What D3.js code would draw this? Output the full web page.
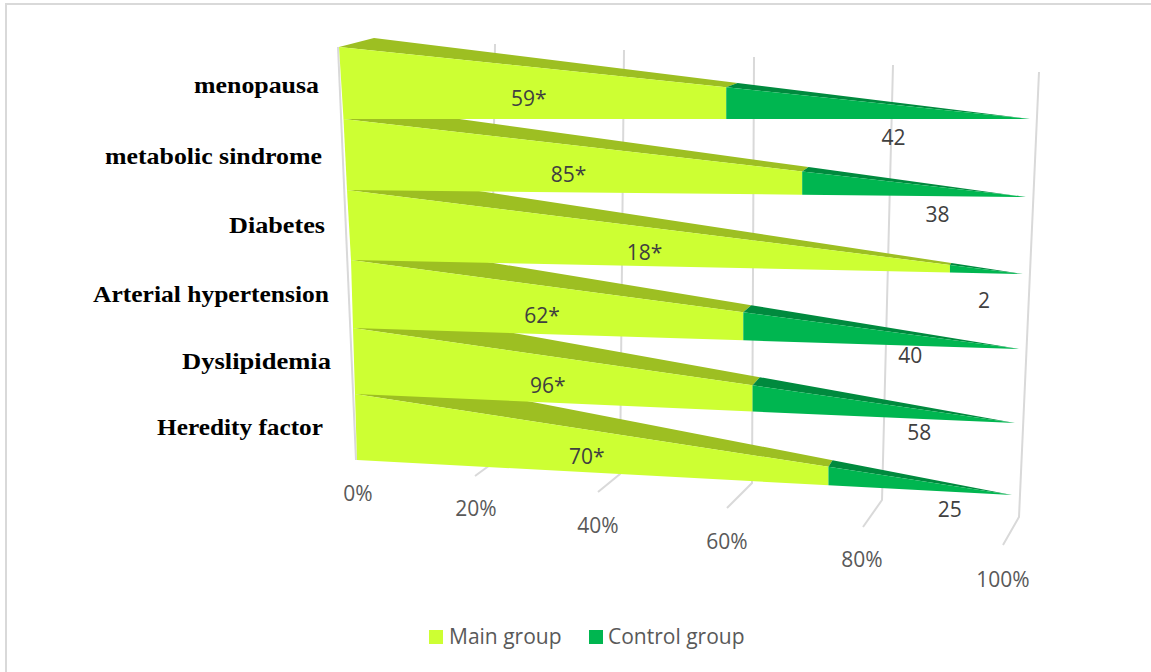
<!DOCTYPE html>
<html>
<head>
<meta charset="utf-8">
<script src="https://cdnjs.cloudflare.com/ajax/libs/d3/7.8.5/d3.min.js"></script>
<style>
  html, body { margin: 0; padding: 0; background: #fff; overflow: hidden; }
  svg { display: block; }
</style>
</head>
<body>
<svg id="chart" width="1151" height="672"></svg>
<script>
// Risk factors, top row first
const categories = ["menopausa", "metabolic sindrome", "Diabetes", "Arterial hypertension", "Dyslipidemia", "Heredity factor"];
const mainGroup = [59, 85, 18, 62, 96, 70];
const controlGroup = [42, 38, 2, 40, 58, 25];
const seriesNames = ["Main group", "Control group"];
const shareTicks = [0, 0.2, 0.4, 0.6, 0.8, 1];

const colors = {
  main: "#cdff33", mainTop: "#9dbf22",
  control: "#00b650", controlTop: "#008a3e",
  grid: "#d9d9d9", axisText: "#595959", valueText: "#404040"
};

const svg = d3.select("#chart");
const rowEdges = d3.range(7);
const rows = d3.range(6);

// Perspective frame: bars start on a slanted left wall and narrow to a point at 100%
const leftX = d3.scaleLinear().domain(rowEdges).range([339, 343.5, 347, 351, 353, 355, 357]);
const leftY = d3.scaleLinear().domain(rowEdges).range([47, 119, 190, 260, 328, 394, 460]);
const tipX = d3.scaleLinear().domain(rows).range([1030, 1026, 1023, 1019, 1015, 1012]);
const tipY = d3.scaleLinear().domain(rows).range([119, 197, 274, 349, 423, 495]);
const backX = d3.scaleLinear().domain(rows).range([374, 378, 381, 384, 386, 388]);
const backY = d3.scaleLinear().domain(rows).range([38, 107.8, 176, 245, 310, 374]);

// Foreshortening along the value axis: nearer shares take up more of the depth
const foreshorten = r => t => t / (t + (1 - t) * r);
const frontBend = d3.scaleLinear().domain([0, 1, 5]).range([1.115, 1.1, 1.09]);
const backDepth = foreshorten(1.13);

// Back wall gridlines and their floor ticks, by share of the stack
const wallTopX = d3.scaleLinear().domain(shareTicks).range([374, 495, 624, 754, 893, 1039]);
const wallTopY = d3.scaleLinear().domain(shareTicks).range([38, 44, 50, 57, 65, 72]);
const floorX = d3.scaleLinear().domain(shareTicks).range([357, 490, 620, 752, 882, 1019]);
const floorY = d3.scaleLinear().domain(shareTicks).range([460, 465, 474, 483, 500, 517]);
const tickEndX = d3.scaleLinear().domain(shareTicks).range([357, 475, 598, 727, 863, 1003]);
const tickEndY = d3.scaleLinear().domain(shareTicks).range([460, 476, 492, 508, 527, 545]);
const tickLabelX = d3.scaleLinear().domain(shareTicks).range([358, 476, 598, 727, 862, 1003]);
const tickLabelY = d3.scaleLinear().domain(shareTicks).range([501, 516, 533, 549, 567, 587]);

// Hand placement of the value labels, relative to the middle of each segment
const controlLabelNudge = [[15.5, 26.5], [23.5, 24.5], [-2.5, 29], [29, 18], [35.5, 21.5], [29.5, 24]];
const mainLabelNudge = [-6, 5.5];

// Category labels: right end, baseline and fitted width
const catRight = [319, 322, 325, 329, 331, 323];
const catBaseline = [93, 164, 233, 302, 369, 435];
const catWidth = [125, 217, 96, 236, 149, 166];

const lerp = (a, b, t) => a + (b - a) * t;
const poly = pts => pts.map(p => p.join(",")).join(" ");

// Page frame
svg.append("rect").attr("x", 6).attr("y", 4).attr("width", 1300).attr("height", 800)
  .attr("fill", "#fff").attr("stroke", colors.grid).attr("stroke-width", 2);

// Gridlines
const gridG = svg.append("g").attr("fill", "none").attr("stroke", colors.grid).attr("stroke-width", 2);
gridG.selectAll("polyline").data(shareTicks.slice(1)).join("polyline")
  .attr("points", t => poly([
    [wallTopX(t), wallTopY(t)], [floorX(t), floorY(t)], [tickEndX(t), tickEndY(t)]
  ]));
gridG.append("line")
  .attr("x1", leftX(0) - 1).attr("y1", leftY(0)).attr("x2", leftX(6) - 1).attr("y2", leftY(6));

// Bars are painted bottom row first so each one overlaps the top face of the next
function barGeometry(i) {
  const share = mainGroup[i] / (mainGroup[i] + controlGroup[i]);
  const tip = [tipX(i), tipY(i)];
  const topLeft = [leftX(i), leftY(i)];
  const botLeft = [leftX(i + 1), leftY(i + 1)];
  const backLeft = [backX(i), backY(i)];
  const sx = lerp(botLeft[0], tip[0], foreshorten(frontBend(i))(share));
  const onEdge = (p, x) => [x, p[1] + (tip[1] - p[1]) * (x - p[0]) / (tip[0] - p[0])];
  const splitTop = onEdge(topLeft, sx);
  const splitBot = onEdge(botLeft, sx);
  const bs = backDepth(share);
  const splitBack = [lerp(backLeft[0], tip[0], bs), lerp(backLeft[1], tip[1], bs)];
  return { tip, topLeft, botLeft, backLeft, sx, splitTop, splitBot, splitBack, onEdge };
}

const barG = svg.append("g");
rows.slice().reverse().forEach(i => {
  const g = barGeometry(i);
  const row = barG.append("g");
  row.append("polygon").attr("fill", colors.mainTop)
    .attr("points", poly([g.topLeft, g.backLeft, g.splitBack, g.splitTop]));
  row.append("polygon").attr("fill", colors.controlTop)
    .attr("points", poly([g.splitTop, g.splitBack, g.tip]));
  row.append("polygon").attr("fill", colors.main)
    .attr("points", poly([g.topLeft, g.splitTop, g.splitBot, g.botLeft]));
  row.append("polygon").attr("fill", colors.control)
    .attr("points", poly([g.splitTop, g.tip, g.splitBot]));
});

// Value labels
const valueFont = "'Open Sans', sans-serif";
const labelG = svg.append("g").attr("font-family", valueFont).attr("font-size", 21)
  .attr("fill", colors.valueText).attr("text-anchor", "middle");
rows.forEach(i => {
  const g = barGeometry(i);
  const mx = (g.botLeft[0] + g.sx) / 2;
  const my = (g.onEdge(g.topLeft, mx)[1] + g.onEdge(g.botLeft, mx)[1]) / 2;
  labelG.append("text").attr("x", mx + mainLabelNudge[0]).attr("y", my + mainLabelNudge[1])
    .attr("dy", "0.35em").text(mainGroup[i] + "*");
  const cx = (g.sx + g.tip[0]) / 2;
  const cy = ((g.splitTop[1] + g.splitBot[1]) / 2 + g.tip[1]) / 2;
  const [nx, ny] = controlLabelNudge[i];
  labelG.append("text").attr("x", cx + nx).attr("y", cy + ny)
    .attr("dy", "0.35em").text(controlGroup[i]);
});

// Share axis labels
svg.append("g").attr("font-family", valueFont).attr("font-size", 21)
  .attr("fill", colors.axisText).attr("text-anchor", "middle")
  .selectAll("text").data(shareTicks).join("text")
  .attr("x", tickLabelX).attr("y", tickLabelY).text(d3.format(".0%"));

// Category labels
svg.append("g").attr("font-family", "'Liberation Serif', serif")
  .attr("font-weight", "bold").attr("font-size", 23).attr("fill", "#000")
  .selectAll("text").data(categories).join("text")
  .attr("x", (d, i) => catRight[i] - catWidth[i]).attr("y", (d, i) => catBaseline[i])
  .attr("textLength", (d, i) => catWidth[i]).attr("lengthAdjust", "spacingAndGlyphs")
  .text(d => d);

// Legend
const legendX = [429, 589];
const legend = svg.append("g").attr("font-family", valueFont).attr("font-size", 21).attr("fill", colors.axisText);
seriesNames.forEach((name, i) => {
  legend.append("rect").attr("x", legendX[i]).attr("y", 630).attr("width", 14).attr("height", 14)
    .attr("fill", i === 0 ? colors.main : colors.control);
  legend.append("text").attr("x", legendX[i] + 20 - i).attr("y", 644).text(name);
});
</script>
</body>
</html>
